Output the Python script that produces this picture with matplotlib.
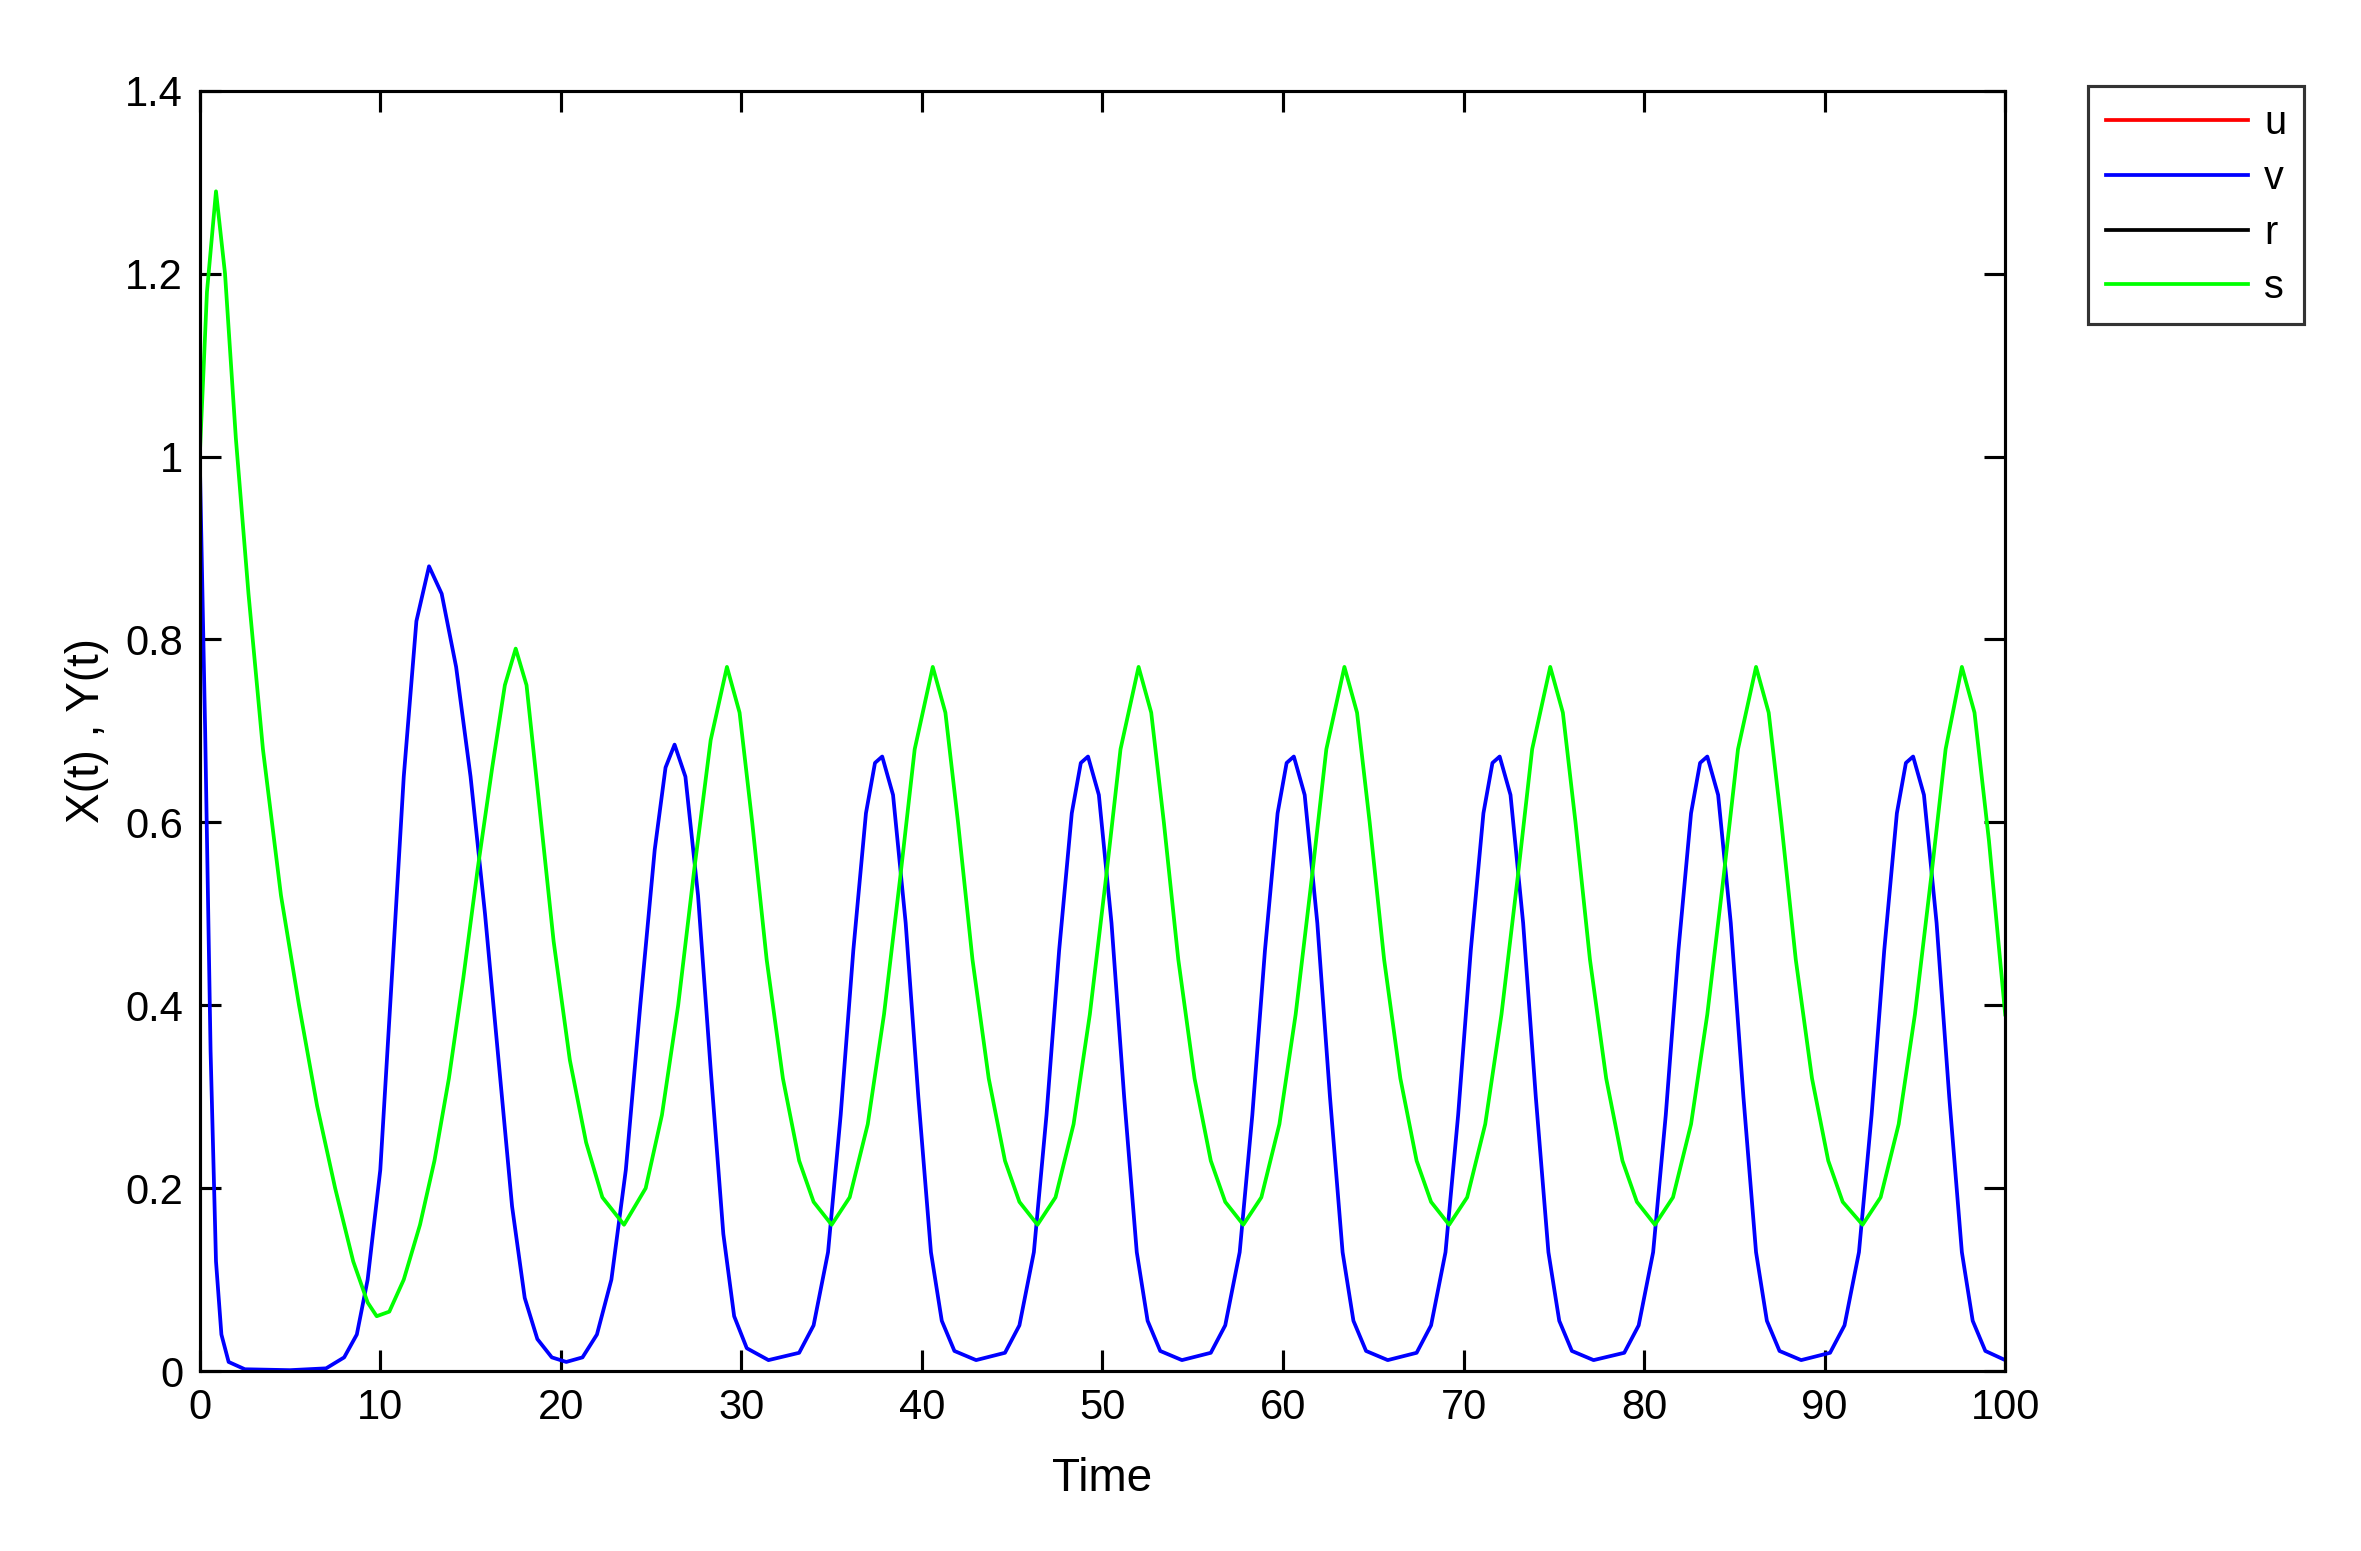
import matplotlib
matplotlib.use("Agg")
import matplotlib.pyplot as plt

t_v = [0,0.3,0.6,0.9,1.2,1.6,2.5,5,7,8,8.7,9.3,10,10.7,11.3,12,12.7,13.4,14.2,15,15.8,16.6,17.3,18,18.7,19.5,20.3,21.2,22,22.8,23.6,24.4,25.2,25.8,26.3,26.9,27.6,28.3,29,29.6,30.3,31.5,
       33.2,34.0,34.8,35.5,36.2,36.9,37.4,37.8,38.4,39.1,39.8,40.5,41.1,41.8,43.0,
       44.6,45.4,46.2,46.9,47.6,48.3,48.8,49.2,49.8,50.5,51.2,51.9,52.5,53.2,54.4,
       56.0,56.8,57.6,58.3,59.0,59.7,60.2,60.6,61.2,61.9,62.6,63.3,63.9,64.6,65.8,
       67.4,68.2,69.0,69.7,70.4,71.1,71.6,72.0,72.6,73.3,74.0,74.7,75.3,76.0,77.2,
       78.9,79.7,80.5,81.2,81.9,82.6,83.1,83.5,84.1,84.8,85.5,86.2,86.8,87.5,88.7,
       90.3,91.1,91.9,92.6,93.3,94.0,94.5,94.9,95.5,96.2,96.9,97.6,98.2,98.9,100.0]
v = [1.0,0.7,0.35,0.12,0.04,0.01,0.002,0.001,0.003,0.015,0.04,0.1,0.22,0.45,0.65,0.82,0.88,0.85,0.77,0.65,0.5,0.33,0.18,0.08,0.035,0.015,0.01,0.015,0.04,0.1,0.22,0.4,0.57,0.66,0.685,0.65,0.52,0.33,0.15,0.06,0.025,0.012,
     0.02,0.05,0.13,0.28,0.46,0.61,0.665,0.672,0.63,0.49,0.3,0.13,0.055,0.022,0.012,
     0.02,0.05,0.13,0.28,0.46,0.61,0.665,0.672,0.63,0.49,0.3,0.13,0.055,0.022,0.012,
     0.02,0.05,0.13,0.28,0.46,0.61,0.665,0.672,0.63,0.49,0.3,0.13,0.055,0.022,0.012,
     0.02,0.05,0.13,0.28,0.46,0.61,0.665,0.672,0.63,0.49,0.3,0.13,0.055,0.022,0.012,
     0.02,0.05,0.13,0.28,0.46,0.61,0.665,0.672,0.63,0.49,0.3,0.13,0.055,0.022,0.012,
     0.02,0.05,0.13,0.28,0.46,0.61,0.665,0.672,0.63,0.49,0.3,0.13,0.055,0.022,0.012]

t_s = [0,0.4,0.9,1.4,2,2.7,3.5,4.5,5.5,6.5,7.5,8.5,9.3,9.8,10.5,11.3,12.2,13,13.8,14.6,15.4,16.2,16.9,17.5,18.1,18.8,19.6,20.5,21.4,22.3,23.5,24.7,25.6,26.5,27.4,28.3,29.2,29.9,30.6,31.4,32.3,33.2,34.0,35,
       36.0,37.0,37.9,38.8,39.6,40.6,41.3,42.0,42.8,43.7,44.6,45.4,46.4,
       47.4,48.4,49.3,50.2,51.0,52.0,52.7,53.4,54.2,55.1,56.0,56.8,57.8,
       58.8,59.8,60.7,61.6,62.4,63.4,64.1,64.8,65.6,66.5,67.4,68.2,69.2,
       70.2,71.2,72.1,73.0,73.8,74.8,75.5,76.2,77.0,77.9,78.8,79.6,80.6,
       81.6,82.6,83.5,84.4,85.2,86.2,86.9,87.6,88.4,89.3,90.2,91.0,92.1,
       93.1,94.1,95.0,95.9,96.7,97.6,98.3,99.1,100.0]
s = [1.0,1.18,1.29,1.2,1.02,0.85,0.68,0.52,0.4,0.29,0.2,0.12,0.075,0.06,0.065,0.1,0.16,0.23,0.32,0.43,0.55,0.66,0.75,0.79,0.75,0.62,0.47,0.34,0.25,0.19,0.16,0.2,0.28,0.4,0.55,0.69,0.77,0.72,0.6,0.45,0.32,0.23,0.185,0.16,
     0.19,0.27,0.39,0.54,0.68,0.77,0.72,0.6,0.45,0.32,0.23,0.185,0.16,
     0.19,0.27,0.39,0.54,0.68,0.77,0.72,0.6,0.45,0.32,0.23,0.185,0.16,
     0.19,0.27,0.39,0.54,0.68,0.77,0.72,0.6,0.45,0.32,0.23,0.185,0.16,
     0.19,0.27,0.39,0.54,0.68,0.77,0.72,0.6,0.45,0.32,0.23,0.185,0.16,
     0.19,0.27,0.39,0.54,0.68,0.77,0.72,0.6,0.45,0.32,0.23,0.185,0.16,
     0.19,0.27,0.39,0.54,0.68,0.77,0.72,0.58,0.39]

plt.rcParams['font.family'] = ['Liberation Sans', 'DejaVu Sans']
fig = plt.figure(figsize=(2361/150, 1551/150), dpi=150)
ax = fig.add_axes([0.0846, 0.116, 0.7647, 0.8255])
lw = 1.8
lu, = ax.plot([], [], color='#ff0000', lw=lw, label='u')
lv, = ax.plot(t_v, v, color='#0000ff', lw=lw, label='v')
lr, = ax.plot([], [], color='black', lw=lw, label='r')
ls, = ax.plot(t_s, s, color='#00ff00', lw=lw, label='s')
ax.set_xlim(0, 100)
ax.set_ylim(0, 1.4)
ax.set_xticks(range(0, 101, 10))
ax.set_yticks([0, 0.2, 0.4, 0.6, 0.8, 1, 1.2, 1.4])
ax.set_yticklabels(['0', '0.2', '0.4', '0.6', '0.8', '1', '1.2', '1.4'])
ax.tick_params(direction='in', top=True, right=True, labelsize=20, length=10, width=1.5, pad=8)
for sp in ax.spines.values():
    sp.set_linewidth(1.5)
ax.set_xlabel('Time', fontsize=22, labelpad=14)
ax.set_ylabel('X(t) , Y(t)', fontsize=22, labelpad=8)
leg = fig.legend(handles=[lu, lv, lr, ls], loc='upper left', bbox_to_anchor=(0.876, 0.957),
                 fontsize=19, handlelength=3.6, fancybox=False,
                 edgecolor='black', borderpad=0.45, labelspacing=0.42, handletextpad=0.4)
leg.get_frame().set_linewidth(1.5)
fig.savefig('out.png', dpi=150)
